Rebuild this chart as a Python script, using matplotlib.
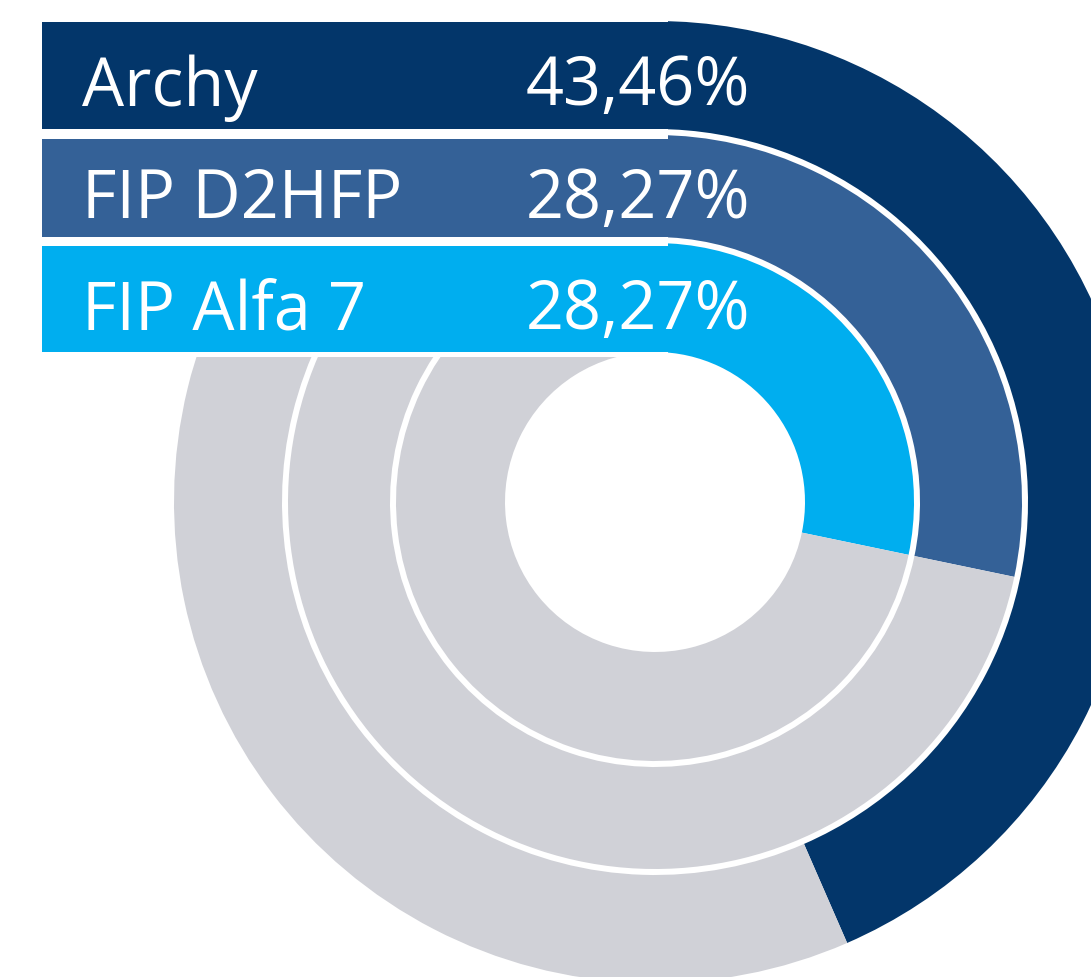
import matplotlib
matplotlib.use('Agg')

from matplotlib import pyplot as plt
from matplotlib.patches import Wedge, Rectangle

# data
labels = ['Archy', 'FIP D2HFP', 'FIP Alfa 7']
values = [43.46, 28.27, 28.27]
colors = ['#03366A', '#346197', '#00AEEF']
GREY = '#D0D1D7'

W, H = 1091, 977
CX, CY = 655, 502
# (inner, outer) radius of each ring, in pixels
RINGS = [(373, 481), (265, 367), (150, 259)]
# (top, bottom) of each label band
BANDS = [(22, 129), (139, 237), (246, 352)]
BAND_X0, BAND_X1 = 42, 668
MASK_BOTTOM = 357

plt.rcParams['font.family'] = ['Open Sans', 'DejaVu Sans']

fig = plt.figure(figsize=(W / 100, H / 100), dpi=100)
ax = fig.add_axes([0, 0, 1, 1])
ax.set_xlim(0, W)
ax.set_ylim(H, 0)
ax.axis('off')

for (r0, r1), v, c in zip(RINGS, values, colors):
    end = -90 + v / 100 * 360  # y axis is flipped, so angles run clockwise
    ax.add_patch(Wedge((CX, CY), r1, -90, end, width=r1 - r0, color=c, lw=0, zorder=1))
    ax.add_patch(Wedge((CX, CY), r1, end, 270, width=r1 - r0, color=GREY, lw=0, zorder=1))

# hide the rings behind the label bands
ax.add_patch(Rectangle((0, 0), BAND_X1, MASK_BOTTOM, color='white', lw=0, zorder=2))

for (top, bottom), name, v, c in zip(BANDS, labels, values, colors):
    ax.add_patch(Rectangle((BAND_X0, top), BAND_X1 - BAND_X0, bottom - top,
                           color=c, lw=0, zorder=3))
    ty = (top + bottom) / 2 + 30
    ax.text(82, ty, name, color='white', fontsize=48, va='baseline', zorder=4)
    pct = '{:.2f}%'.format(v).replace('.', ',')
    ax.text(526, ty, pct, color='white', fontsize=48, va='baseline', zorder=4)

fig.savefig('out.png', dpi=100)
